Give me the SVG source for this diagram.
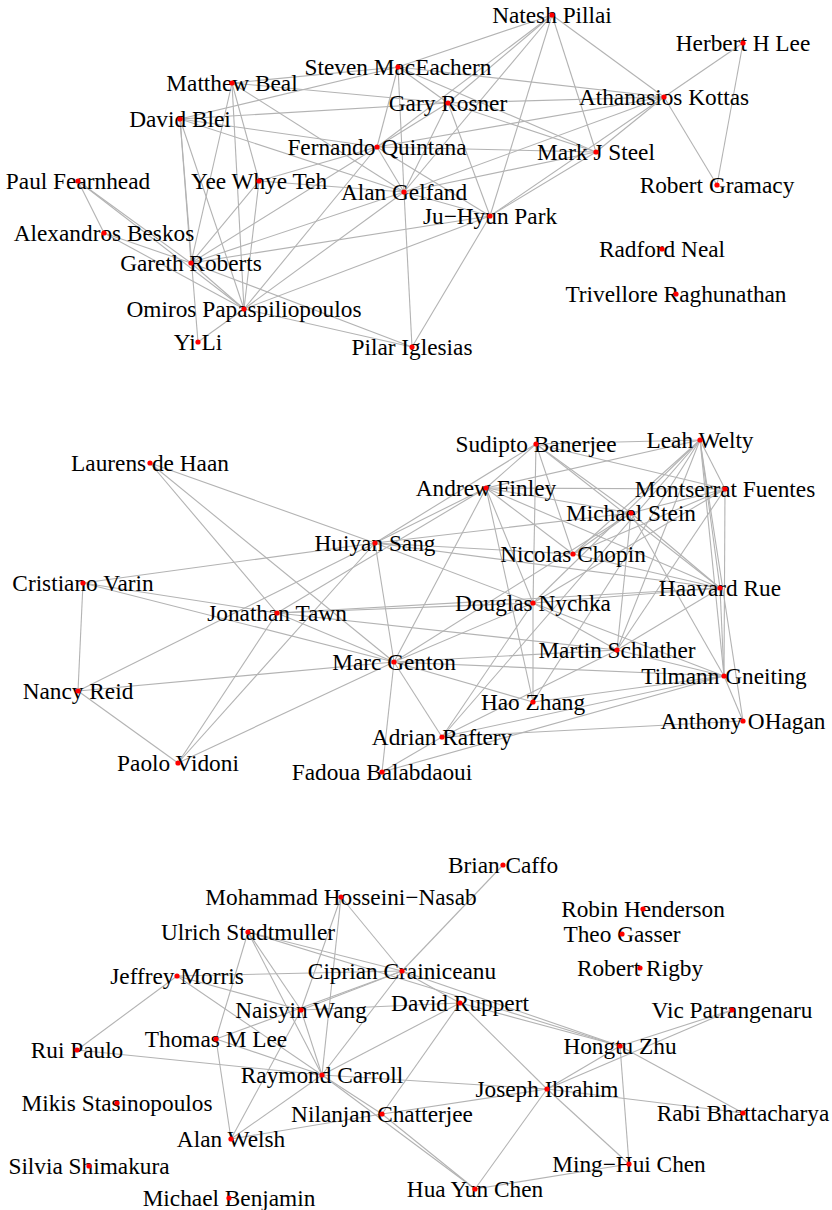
<svg xmlns="http://www.w3.org/2000/svg" width="832" height="1210" viewBox="0 0 832 1210">
<style>
.e line{stroke:#b3b3b3;stroke-width:1.1}
text{font-family:"Liberation Serif","Times New Roman",serif;font-size:23.3px;fill:#000;text-anchor:middle}
circle{fill:#ff0000}
</style>
<rect width="832" height="1210" fill="#fff"/>
<g id="connectors" class="e">
<line x1="552" y1="15" x2="398" y2="67"/>
<line x1="552" y1="15" x2="448" y2="103"/>
<line x1="552" y1="15" x2="377" y2="147"/>
<line x1="552" y1="15" x2="404" y2="192"/>
<line x1="552" y1="15" x2="490" y2="216"/>
<line x1="552" y1="15" x2="596" y2="152"/>
<line x1="552" y1="15" x2="664" y2="97"/>
<line x1="743" y1="43" x2="664" y2="97"/>
<line x1="743" y1="43" x2="717" y2="185"/>
<line x1="664" y1="97" x2="717" y2="185"/>
<line x1="664" y1="97" x2="398" y2="67"/>
<line x1="664" y1="97" x2="448" y2="103"/>
<line x1="664" y1="97" x2="377" y2="147"/>
<line x1="664" y1="97" x2="404" y2="192"/>
<line x1="664" y1="97" x2="490" y2="216"/>
<line x1="664" y1="97" x2="596" y2="152"/>
<line x1="596" y1="152" x2="448" y2="103"/>
<line x1="596" y1="152" x2="377" y2="147"/>
<line x1="596" y1="152" x2="404" y2="192"/>
<line x1="596" y1="152" x2="398" y2="67"/>
<line x1="596" y1="152" x2="490" y2="216"/>
<line x1="398" y1="67" x2="232" y2="83"/>
<line x1="398" y1="67" x2="180" y2="119"/>
<line x1="398" y1="67" x2="448" y2="103"/>
<line x1="398" y1="67" x2="377" y2="147"/>
<line x1="398" y1="67" x2="404" y2="192"/>
<line x1="232" y1="83" x2="448" y2="103"/>
<line x1="232" y1="83" x2="259" y2="181"/>
<line x1="232" y1="83" x2="191" y2="263"/>
<line x1="232" y1="83" x2="244" y2="309"/>
<line x1="232" y1="83" x2="404" y2="192"/>
<line x1="180" y1="119" x2="448" y2="103"/>
<line x1="180" y1="119" x2="377" y2="147"/>
<line x1="180" y1="119" x2="404" y2="192"/>
<line x1="180" y1="119" x2="191" y2="263"/>
<line x1="180" y1="119" x2="198" y2="342"/>
<line x1="180" y1="119" x2="244" y2="309"/>
<line x1="377" y1="147" x2="448" y2="103"/>
<line x1="377" y1="147" x2="404" y2="192"/>
<line x1="377" y1="147" x2="259" y2="181"/>
<line x1="377" y1="147" x2="244" y2="309"/>
<line x1="377" y1="147" x2="191" y2="263"/>
<line x1="377" y1="147" x2="490" y2="216"/>
<line x1="448" y1="103" x2="404" y2="192"/>
<line x1="448" y1="103" x2="490" y2="216"/>
<line x1="404" y1="192" x2="490" y2="216"/>
<line x1="404" y1="192" x2="412" y2="347"/>
<line x1="404" y1="192" x2="259" y2="181"/>
<line x1="404" y1="192" x2="191" y2="263"/>
<line x1="404" y1="192" x2="244" y2="309"/>
<line x1="490" y1="216" x2="412" y2="347"/>
<line x1="490" y1="216" x2="244" y2="309"/>
<line x1="490" y1="216" x2="191" y2="263"/>
<line x1="259" y1="181" x2="191" y2="263"/>
<line x1="259" y1="181" x2="244" y2="309"/>
<line x1="78" y1="181" x2="104" y2="233"/>
<line x1="78" y1="181" x2="191" y2="263"/>
<line x1="78" y1="181" x2="244" y2="309"/>
<line x1="104" y1="233" x2="191" y2="263"/>
<line x1="104" y1="233" x2="244" y2="309"/>
<line x1="191" y1="263" x2="244" y2="309"/>
<line x1="191" y1="263" x2="412" y2="347"/>
<line x1="244" y1="309" x2="198" y2="342"/>
<line x1="244" y1="309" x2="412" y2="347"/>

<line x1="150" y1="463" x2="375" y2="543"/>
<line x1="150" y1="463" x2="277" y2="613"/>
<line x1="150" y1="463" x2="394" y2="662"/>
<line x1="375" y1="543" x2="83" y2="583"/>
<line x1="375" y1="543" x2="78" y2="691"/>
<line x1="375" y1="543" x2="178" y2="763"/>
<line x1="375" y1="543" x2="394" y2="662"/>
<line x1="375" y1="543" x2="486" y2="488"/>
<line x1="375" y1="543" x2="536" y2="444"/>
<line x1="375" y1="543" x2="573" y2="554"/>
<line x1="375" y1="543" x2="533" y2="603"/>
<line x1="375" y1="543" x2="631" y2="513"/>
<line x1="375" y1="543" x2="720" y2="588"/>
<line x1="83" y1="583" x2="78" y2="691"/>
<line x1="83" y1="583" x2="394" y2="662"/>
<line x1="83" y1="583" x2="277" y2="613"/>
<line x1="277" y1="613" x2="178" y2="763"/>
<line x1="277" y1="613" x2="394" y2="662"/>
<line x1="277" y1="613" x2="533" y2="603"/>
<line x1="277" y1="613" x2="486" y2="488"/>
<line x1="277" y1="613" x2="617" y2="650"/>
<line x1="277" y1="613" x2="720" y2="588"/>
<line x1="78" y1="691" x2="178" y2="763"/>
<line x1="78" y1="691" x2="394" y2="662"/>
<line x1="178" y1="763" x2="394" y2="662"/>
<line x1="394" y1="662" x2="382" y2="772"/>
<line x1="394" y1="662" x2="486" y2="488"/>
<line x1="394" y1="662" x2="533" y2="603"/>
<line x1="394" y1="662" x2="617" y2="650"/>
<line x1="394" y1="662" x2="724" y2="676"/>
<line x1="394" y1="662" x2="533" y2="702"/>
<line x1="394" y1="662" x2="442" y2="737"/>
<line x1="394" y1="662" x2="631" y2="513"/>
<line x1="382" y1="772" x2="724" y2="676"/>
<line x1="382" y1="772" x2="442" y2="737"/>
<line x1="442" y1="737" x2="724" y2="676"/>
<line x1="442" y1="737" x2="743" y2="721"/>
<line x1="442" y1="737" x2="533" y2="603"/>
<line x1="442" y1="737" x2="700" y2="440"/>
<line x1="442" y1="737" x2="617" y2="650"/>
<line x1="533" y1="702" x2="533" y2="603"/>
<line x1="533" y1="702" x2="486" y2="488"/>
<line x1="533" y1="702" x2="724" y2="676"/>
<line x1="533" y1="702" x2="700" y2="440"/>
<line x1="533" y1="603" x2="536" y2="444"/>
<line x1="533" y1="603" x2="486" y2="488"/>
<line x1="533" y1="603" x2="700" y2="440"/>
<line x1="533" y1="603" x2="725" y2="489"/>
<line x1="533" y1="603" x2="720" y2="588"/>
<line x1="533" y1="603" x2="617" y2="650"/>
<line x1="533" y1="603" x2="724" y2="676"/>
<line x1="617" y1="650" x2="724" y2="676"/>
<line x1="617" y1="650" x2="631" y2="513"/>
<line x1="617" y1="650" x2="700" y2="440"/>
<line x1="617" y1="650" x2="725" y2="489"/>
<line x1="617" y1="650" x2="720" y2="588"/>
<line x1="724" y1="676" x2="700" y2="440"/>
<line x1="724" y1="676" x2="725" y2="489"/>
<line x1="724" y1="676" x2="720" y2="588"/>
<line x1="724" y1="676" x2="743" y2="721"/>
<line x1="724" y1="676" x2="631" y2="513"/>
<line x1="743" y1="721" x2="700" y2="440"/>
<line x1="536" y1="444" x2="700" y2="440"/>
<line x1="536" y1="444" x2="486" y2="488"/>
<line x1="536" y1="444" x2="725" y2="489"/>
<line x1="536" y1="444" x2="631" y2="513"/>
<line x1="536" y1="444" x2="720" y2="588"/>
<line x1="536" y1="444" x2="573" y2="554"/>
<line x1="700" y1="440" x2="486" y2="488"/>
<line x1="700" y1="440" x2="725" y2="489"/>
<line x1="700" y1="440" x2="720" y2="588"/>
<line x1="700" y1="440" x2="573" y2="554"/>
<line x1="486" y1="488" x2="725" y2="489"/>
<line x1="486" y1="488" x2="631" y2="513"/>
<line x1="486" y1="488" x2="720" y2="588"/>
<line x1="486" y1="488" x2="573" y2="554"/>
<line x1="725" y1="489" x2="631" y2="513"/>
<line x1="725" y1="489" x2="573" y2="554"/>
<line x1="631" y1="513" x2="720" y2="588"/>
<line x1="631" y1="513" x2="573" y2="554"/>
<line x1="573" y1="554" x2="720" y2="588"/>

<line x1="503" y1="865" x2="402" y2="971"/>
<line x1="341" y1="897" x2="402" y2="971"/>
<line x1="341" y1="897" x2="301" y2="1010"/>
<line x1="341" y1="897" x2="322" y2="1075"/>
<line x1="248" y1="932" x2="402" y2="971"/>
<line x1="248" y1="932" x2="620" y2="1046"/>
<line x1="248" y1="932" x2="216" y2="1039"/>
<line x1="248" y1="932" x2="322" y2="1075"/>
<line x1="248" y1="932" x2="301" y2="1010"/>
<line x1="177" y1="976" x2="402" y2="971"/>
<line x1="177" y1="976" x2="77" y2="1050"/>
<line x1="177" y1="976" x2="322" y2="1075"/>
<line x1="177" y1="976" x2="301" y2="1010"/>
<line x1="402" y1="971" x2="301" y2="1010"/>
<line x1="402" y1="971" x2="216" y2="1039"/>
<line x1="402" y1="971" x2="460" y2="1003"/>
<line x1="402" y1="971" x2="322" y2="1075"/>
<line x1="402" y1="971" x2="620" y2="1046"/>
<line x1="301" y1="1010" x2="460" y2="1003"/>
<line x1="301" y1="1010" x2="322" y2="1075"/>
<line x1="301" y1="1010" x2="231" y2="1139"/>
<line x1="460" y1="1003" x2="322" y2="1075"/>
<line x1="460" y1="1003" x2="620" y2="1046"/>
<line x1="460" y1="1003" x2="547" y2="1089"/>
<line x1="460" y1="1003" x2="382" y2="1114"/>
<line x1="216" y1="1039" x2="322" y2="1075"/>
<line x1="216" y1="1039" x2="231" y2="1139"/>
<line x1="77" y1="1050" x2="322" y2="1075"/>
<line x1="322" y1="1075" x2="382" y2="1114"/>
<line x1="322" y1="1075" x2="231" y2="1139"/>
<line x1="322" y1="1075" x2="547" y2="1089"/>
<line x1="322" y1="1075" x2="475" y2="1189"/>
<line x1="382" y1="1114" x2="475" y2="1189"/>
<line x1="382" y1="1114" x2="231" y2="1139"/>
<line x1="382" y1="1114" x2="547" y2="1089"/>
<line x1="547" y1="1089" x2="620" y2="1046"/>
<line x1="547" y1="1089" x2="732" y2="1010"/>
<line x1="547" y1="1089" x2="743" y2="1113"/>
<line x1="547" y1="1089" x2="629" y2="1164"/>
<line x1="547" y1="1089" x2="475" y2="1189"/>
<line x1="620" y1="1046" x2="732" y2="1010"/>
<line x1="620" y1="1046" x2="743" y2="1113"/>
<line x1="620" y1="1046" x2="629" y2="1164"/>
<line x1="629" y1="1164" x2="475" y2="1189"/>
</g>
<g id="n-natesh"><text x="552" y="22.5">Natesh Pillai</text><circle cx="552" cy="15" r="2.6"/></g>
<g id="n-herbert"><text x="743" y="50.5">Herbert H Lee</text><circle cx="743" cy="43" r="2.6"/></g>
<g id="n-kottas"><text x="664" y="104.5">Athanasios Kottas</text><circle cx="664" cy="97" r="2.6"/></g>
<g id="n-steel"><text x="596" y="159.5">Mark J Steel</text><circle cx="596" cy="152" r="2.6"/></g>
<g id="n-gramacy"><text x="717" y="192.5">Robert Gramacy</text><circle cx="717" cy="185" r="2.6"/></g>
<g id="n-rosner"><text x="448" y="110.5">Gary Rosner</text><circle cx="448" cy="103" r="2.6"/></g>
<g id="n-maceachern"><text x="398" y="74.5">Steven MacEachern</text><circle cx="398" cy="67" r="2.6"/></g>
<g id="n-beal"><text x="232" y="90.5">Matthew Beal</text><circle cx="232" cy="83" r="2.6"/></g>
<g id="n-blei"><text x="180" y="126.5">David Blei</text><circle cx="180" cy="119" r="2.6"/></g>
<g id="n-quintana"><text x="377" y="154.5">Fernando Quintana</text><circle cx="377" cy="147" r="2.6"/></g>
<g id="n-teh"><text x="259" y="188.5">Yee Whye Teh</text><circle cx="259" cy="181" r="2.6"/></g>
<g id="n-fearnhead"><text x="78" y="188.5">Paul Fearnhead</text><circle cx="78" cy="181" r="2.6"/></g>
<g id="n-gelfand"><text x="404" y="199.5">Alan Gelfand</text><circle cx="404" cy="192" r="2.6"/></g>
<g id="n-beskos"><text x="104" y="240.5">Alexandros Beskos</text><circle cx="104" cy="233" r="2.6"/></g>
<g id="n-roberts"><text x="191" y="270.5">Gareth Roberts</text><circle cx="191" cy="263" r="2.6"/></g>
<g id="n-omiros"><text x="244" y="316.5">Omiros Papaspiliopoulos</text><circle cx="244" cy="309" r="2.6"/></g>
<g id="n-yili"><text x="198" y="349.5">Yi Li</text><circle cx="198" cy="342" r="2.6"/></g>
<g id="n-pilar"><text x="412" y="354.5">Pilar Iglesias</text><circle cx="412" cy="347" r="2.6"/></g>
<g id="n-park"><text x="490" y="223.5">Ju−Hyun Park</text><circle cx="490" cy="216" r="2.6"/></g>
<g id="n-neal"><text x="662" y="256.5">Radford Neal</text><circle cx="662" cy="249" r="2.6"/></g>
<g id="n-ragh"><text x="676" y="301.5">Trivellore Raghunathan</text><circle cx="676" cy="294" r="2.6"/></g>

<g id="n-dehaan"><text x="150" y="470.5">Laurens de Haan</text><circle cx="150" cy="463" r="2.6"/></g>
<g id="n-sang"><text x="375" y="550.5">Huiyan Sang</text><circle cx="375" cy="543" r="2.6"/></g>
<g id="n-varin"><text x="83" y="590.5">Cristiano Varin</text><circle cx="83" cy="583" r="2.6"/></g>
<g id="n-tawn"><text x="277" y="620.5">Jonathan Tawn</text><circle cx="277" cy="613" r="2.6"/></g>
<g id="n-reid"><text x="78" y="698.5">Nancy Reid</text><circle cx="78" cy="691" r="2.6"/></g>
<g id="n-genton"><text x="394" y="669.5">Marc Genton</text><circle cx="394" cy="662" r="2.6"/></g>
<g id="n-vidoni"><text x="178" y="770.5">Paolo Vidoni</text><circle cx="178" cy="763" r="2.6"/></g>
<g id="n-fadoua"><text x="382" y="779.5">Fadoua Balabdaoui</text><circle cx="382" cy="772" r="2.6"/></g>
<g id="n-raftery"><text x="442" y="744.5">Adrian Raftery</text><circle cx="442" cy="737" r="2.6"/></g>
<g id="n-zhang"><text x="533" y="709.5">Hao Zhang</text><circle cx="533" cy="702" r="2.6"/></g>
<g id="n-nychka"><text x="533" y="610.5">Douglas Nychka</text><circle cx="533" cy="603" r="2.6"/></g>
<g id="n-schlather"><text x="617" y="657.5">Martin Schlather</text><circle cx="617" cy="650" r="2.6"/></g>
<g id="n-gneiting"><text x="724" y="683.5">Tilmann Gneiting</text><circle cx="724" cy="676" r="2.6"/></g>
<g id="n-ohagan"><text x="743" y="728.5">Anthony OHagan</text><circle cx="743" cy="721" r="2.6"/></g>
<g id="n-banerjee"><text x="536" y="451.5">Sudipto Banerjee</text><circle cx="536" cy="444" r="2.6"/></g>
<g id="n-welty"><text x="700" y="447.5">Leah Welty</text><circle cx="700" cy="440" r="2.6"/></g>
<g id="n-finley"><text x="486" y="495.5">Andrew Finley</text><circle cx="486" cy="488" r="2.6"/></g>
<g id="n-fuentes"><text x="725" y="496.5">Montserrat Fuentes</text><circle cx="725" cy="489" r="2.6"/></g>
<g id="n-stein"><text x="631" y="520.5">Michael Stein</text><circle cx="631" cy="513" r="2.6"/></g>
<g id="n-chopin"><text x="573" y="561.5">Nicolas Chopin</text><circle cx="573" cy="554" r="2.6"/></g>
<g id="n-rue"><text x="720" y="595.5">Haavard Rue</text><circle cx="720" cy="588" r="2.6"/></g>

<g id="n-caffo"><text x="503" y="872.5">Brian Caffo</text><circle cx="503" cy="865" r="2.6"/></g>
<g id="n-hosseini"><text x="341" y="904.5">Mohammad Hosseini−Nasab</text><circle cx="341" cy="897" r="2.6"/></g>
<g id="n-henderson"><text x="643" y="916.5">Robin Henderson</text><circle cx="643" cy="909" r="2.6"/></g>
<g id="n-gasser"><text x="622" y="941.5">Theo Gasser</text><circle cx="622" cy="934" r="2.6"/></g>
<g id="n-stadtmuller"><text x="248" y="939.5">Ulrich Stadtmuller</text><circle cx="248" cy="932" r="2.6"/></g>
<g id="n-rigby"><text x="640" y="975.5">Robert Rigby</text><circle cx="640" cy="968" r="2.6"/></g>
<g id="n-morris"><text x="177" y="983.5">Jeffrey Morris</text><circle cx="177" cy="976" r="2.6"/></g>
<g id="n-crainiceanu"><text x="402" y="978.5">Ciprian Crainiceanu</text><circle cx="402" cy="971" r="2.6"/></g>
<g id="n-wang"><text x="301" y="1017.5">Naisyin Wang</text><circle cx="301" cy="1010" r="2.6"/></g>
<g id="n-ruppert"><text x="460" y="1010.5">David Ruppert</text><circle cx="460" cy="1003" r="2.6"/></g>
<g id="n-patrangenaru"><text x="732" y="1017.5">Vic Patrangenaru</text><circle cx="732" cy="1010" r="2.6"/></g>
<g id="n-lee"><text x="216" y="1046.5">Thomas M Lee</text><circle cx="216" cy="1039" r="2.6"/></g>
<g id="n-paulo"><text x="77" y="1057.5">Rui Paulo</text><circle cx="77" cy="1050" r="2.6"/></g>
<g id="n-carroll"><text x="322" y="1082.5">Raymond Carroll</text><circle cx="322" cy="1075" r="2.6"/></g>
<g id="n-zhu"><text x="620" y="1053.5">Hongtu Zhu</text><circle cx="620" cy="1046" r="2.6"/></g>
<g id="n-ibrahim"><text x="547" y="1096.5">Joseph Ibrahim</text><circle cx="547" cy="1089" r="2.6"/></g>
<g id="n-stasinopoulos"><text x="117" y="1110.5">Mikis Stasinopoulos</text><circle cx="117" cy="1103" r="2.6"/></g>
<g id="n-chatterjee"><text x="382" y="1121.5">Nilanjan Chatterjee</text><circle cx="382" cy="1114" r="2.6"/></g>
<g id="n-bhattacharya"><text x="743" y="1120.5">Rabi Bhattacharya</text><circle cx="743" cy="1113" r="2.6"/></g>
<g id="n-welsh"><text x="231" y="1146.5">Alan Welsh</text><circle cx="231" cy="1139" r="2.6"/></g>
<g id="n-shimakura"><text x="89" y="1173.5">Silvia Shimakura</text><circle cx="89" cy="1166" r="2.6"/></g>
<g id="n-mhchen"><text x="629" y="1171.5">Ming−Hui Chen</text><circle cx="629" cy="1164" r="2.6"/></g>
<g id="n-hychen"><text x="475" y="1196.5">Hua Yun Chen</text><circle cx="475" cy="1189" r="2.6"/></g>
<g id="n-benjamin"><text x="229" y="1205.5">Michael Benjamin</text><circle cx="229" cy="1198" r="2.6"/></g>
</svg>
